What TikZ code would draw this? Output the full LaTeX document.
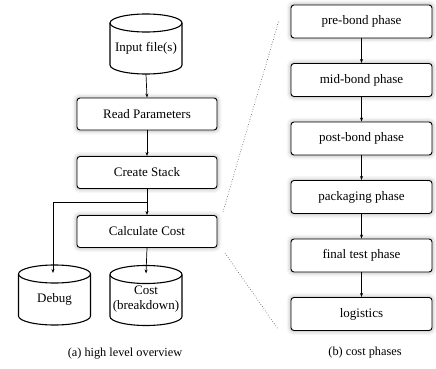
\documentclass[tikz,border=0pt]{standalone}
\usepackage{fontspec}
\setmainfont{Liberation Serif}
\usetikzlibrary{arrows.meta}
% outline of a data store drawn around the text node #1
\newcommand\drumoutline[1]{%
  \draw[storeline] ([yshift=25pt]#1.center) ellipse [x radius=36pt, y radius=9pt];
  \draw[storeline] ([xshift=-36pt,yshift=25pt]#1.center)
    -- ([xshift=-36pt,yshift=-17pt]#1.center)
    arc[start angle=180, end angle=360, x radius=36pt, y radius=9pt]
    -- ([xshift=36pt,yshift=25pt]#1.center);}
\begin{document}
\begin{tikzpicture}[x=1pt,y=-1pt,
  font=\fontsize{13}{15}\selectfont,
  glow/.style={preaction={draw=black,opacity=0.035,line width=9pt},
               preaction={draw=black,opacity=0.05,line width=6pt},
               preaction={draw=black,opacity=0.08,line width=3pt}},
  stepbox/.style={draw, fill=white, rounded corners=3pt, line width=0.9pt,
                  minimum width=140pt, minimum height=32pt, glow},
  store/.style={align=center, inner sep=1pt},
  storeline/.style={line width=1.1pt},
  flow/.style={-{Stealth[length=4pt,width=3pt]}, line width=0.7pt},
  zoomline/.style={dotted, line width=0.6pt, black!75},
  caption/.style={font=\fontsize{12.3}{14}\selectfont}
]
\useasboundingbox (0,0) rectangle (436,369);

% high level overview
\node[store] (input) at (146,48) {Input file(s)};
\drumoutline{input}
\node[stepbox] (read) at (147,114) {Read Parameters};
\node[stepbox] (create) at (147,172.5) {Create Stack};
\node[stepbox] (calc) at (147,231.5) {Calculate Cost};
\node[store] (debug) at (54.5,299) {Debug};
\drumoutline{debug}
\node[store] (cost) at (146,299.5) {Cost\\(breakdown)};
\drumoutline{cost}
\coordinate (split) at (147,202);

\draw[flow] ([yshift=-26pt]input.center) -- (read.north);
\draw[flow] (read.south) -- (create.north);
\draw[flow] (create.south) -- (calc.north);
\draw[flow] (split) -| ([xshift=-1.5pt,yshift=26pt]debug.center);
\draw[flow] (calc.south) -- ([yshift=26pt]cost.center);

\node[caption] (capa) at (125,354) {(a) high level overview};

% cost phases
\begin{scope}[stepbox/.append style={minimum width=141pt, minimum height=33pt}]
\node[stepbox] (pre) at (361.5,21.5) {pre-bond phase};
\node[stepbox] (mid) at (361.5,80) {mid-bond phase};
\node[stepbox] (post) at (361.5,138.5) {post-bond phase};
\node[stepbox] (pack) at (361.5,197) {packaging phase};
\node[stepbox] (final) at (361.5,255.5) {final test phase};
\node[stepbox] (logi) at (361.5,314) {logistics};
\end{scope}
\draw[flow] (pre) -- (mid);
\draw[flow] (mid) -- (post);
\draw[flow] (post) -- (pack);
\draw[flow] (pack) -- (final);
\draw[flow] (final) -- (logi);

\node[caption] (capb) at (365,353) {(b) cost phases};

% zoom guides from "Calculate Cost" to the phase list
\coordinate (za) at (223,212);
\coordinate (zb) at (279,20);
\coordinate (zc) at (225,253);
\coordinate (zd) at (278,329);
\draw[zoomline] (za) -- (zb);
\draw[zoomline] (zc) -- (zd);
\end{tikzpicture}
\end{document}
